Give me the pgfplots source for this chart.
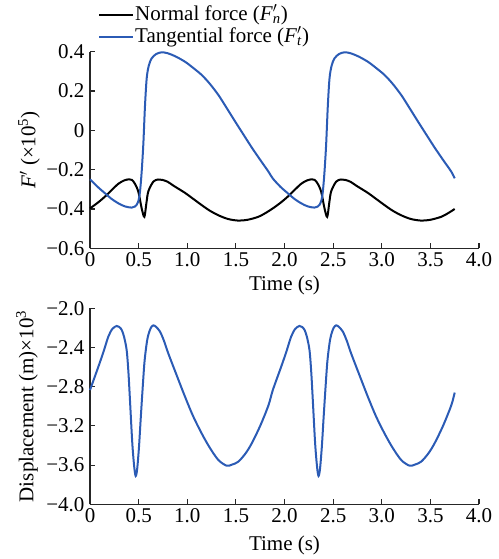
\documentclass[border=0pt]{standalone}
\usepackage{fontspec}
\setmainfont{Liberation Serif}
\usepackage{pgfplots}
\pgfplotsset{compat=1.18}
\definecolor{fblue}{RGB}{43,91,181}
\newcommand{\fs}{\fontsize{21}{23}\selectfont}
\begin{document}
\begin{tikzpicture}
\path[use as bounding box] (0pt,0pt) rectangle (498pt,-559pt);
\pgfplotsset{
  myax/.style={
    scale only axis, width=389pt,
    axis lines=left, axis line style={-, line width=1.2pt, black!85},
    tick align=inside, major tick length=5pt,
    tick style={line width=1.1pt, black!85},
    xmin=0, xmax=4, clip=false,
    xtick={0,0.5,1,1.5,2,2.5,3,3.5,4},
    xticklabels={0,0.5,1.0,1.5,2.0,2.5,3.0,3.5,4.0},
    ticklabel style={font=\fs},
    xlabel={Time (s)},
    every axis x label/.style={at={(axis description cs:0.5,0)}, anchor=north, yshift=-24pt, font=\fs},
    every axis y label/.style={at={(axis description cs:0,0.5)}, rotate=90, anchor=center, font=\fs},
    yticklabel style={xshift=-2pt},
    xticklabel style={yshift=-1pt},
  }
}
\begin{axis}[myax, at={(90pt,-248.3pt)}, anchor=south west, height=196.6pt,
  ymin=-0.6, ymax=0.4,
  ytick={-0.6,-0.4,-0.2,0,0.2,0.4},
  yticklabels={−0.6,−0.4,−0.2,0,0.2,0.4},
  ylabel={\textit{F}$'$ (×10\textsuperscript{5})},
  every axis y label/.append style={yshift=61pt},
  legend cell align=left,
  legend style={draw=none, fill=none, font=\fs, at={(axis description cs:0,1)}, anchor=south west,
    xshift=8pt, yshift=4pt, row sep=1pt, inner sep=0pt,
    nodes={inner sep=1pt, text height=15pt, text depth=4pt}},
  legend image code/.code={\draw[#1, line width=2pt] (0pt,0pt) -- (34pt,0pt);},
]
\addplot[black, line width=2pt, smooth, tension=0.5] coordinates {
(0,-0.397) (0.08,-0.368) (0.154,-0.337) (0.22,-0.305) (0.291,-0.272) (0.35,-0.255) (0.40,-0.249) (0.43,-0.252) (0.46,-0.270) (0.497,-0.312) (0.531,-0.396) (0.559,-0.440) (0.58,-0.37) (0.60,-0.31) (0.651,-0.261) (0.70,-0.250) (0.744,-0.252) (0.80,-0.262) (0.86,-0.282) (0.977,-0.318) (1.06,-0.348) (1.148,-0.380) (1.23,-0.408) (1.32,-0.432) (1.42,-0.451) (1.525,-0.459) (1.62,-0.455) (1.73,-0.440) (1.80,-0.422)
(1.88,-0.397) (1.96,-0.368) (2.034,-0.337) (2.10,-0.305) (2.171,-0.272) (2.23,-0.255) (2.28,-0.249) (2.31,-0.252) (2.34,-0.270) (2.377,-0.312) (2.411,-0.396) (2.439,-0.440) (2.46,-0.37) (2.48,-0.31) (2.531,-0.261) (2.58,-0.250) (2.624,-0.252) (2.68,-0.262) (2.74,-0.282) (2.857,-0.318) (2.94,-0.348) (3.028,-0.380) (3.11,-0.408) (3.20,-0.432) (3.30,-0.451) (3.405,-0.459) (3.50,-0.455) (3.61,-0.440) (3.68,-0.422) (3.75,-0.400)
};
\addlegendentry{Normal force (\textit{F}\rlap{$'$}\textsubscript{\textit{n}})}
\addplot[fblue, line width=2pt, smooth, tension=0.5] coordinates {
(0,-0.249) (0.08,-0.288) (0.154,-0.320) (0.22,-0.348) (0.291,-0.371) (0.36,-0.387) (0.428,-0.393) (0.46,-0.388) (0.48,-0.379) (0.50,-0.355) (0.514,-0.312) (0.53,-0.22) (0.548,-0.074) (0.565,0.12) (0.583,0.265) (0.605,0.33) (0.634,0.366) (0.68,0.388) (0.737,0.397) (0.80,0.392) (0.88,0.376) (0.977,0.349) (1.06,0.318) (1.148,0.282) (1.23,0.238) (1.32,0.180) (1.40,0.118) (1.491,0.046) (1.58,-0.023) (1.663,-0.087) (1.75,-0.150) (1.835,-0.210)
(1.88,-0.245) (1.96,-0.288) (2.034,-0.320) (2.10,-0.348) (2.171,-0.371) (2.24,-0.387) (2.308,-0.393) (2.34,-0.388) (2.36,-0.379) (2.38,-0.355) (2.394,-0.312) (2.41,-0.22) (2.428,-0.074) (2.445,0.12) (2.463,0.265) (2.485,0.33) (2.514,0.366) (2.56,0.388) (2.617,0.397) (2.68,0.392) (2.76,0.376) (2.857,0.349) (2.94,0.318) (3.028,0.282) (3.11,0.238) (3.20,0.180) (3.28,0.118) (3.371,0.046) (3.46,-0.023) (3.543,-0.087) (3.63,-0.150) (3.715,-0.210) (3.75,-0.244)
};
\addlegendentry{Tangential force (\textit{F}\rlap{$'$}\textsubscript{\textit{t}})}
\end{axis}
\begin{axis}[myax, at={(90pt,-504.3pt)}, anchor=south west, height=196pt,
  ymin=-4, ymax=-2,
  ytick={-4,-3.6,-3.2,-2.8,-2.4,-2},
  yticklabels={−4.0,−3.6,−3.2,−2.8,−2.4,−2.0},
  ylabel={Displacement (m)×10\textsuperscript{3}},
  every axis y label/.append style={yshift=63pt},
  every axis x label/.append style={yshift=-4pt},
]
\addplot[fblue, line width=2pt, smooth, tension=0.5] coordinates {
(0,-2.834) (0.086,-2.596) (0.14,-2.44) (0.188,-2.29) (0.23,-2.21) (0.274,-2.18) (0.30,-2.19) (0.326,-2.22) (0.35,-2.29) (0.377,-2.426) (0.395,-2.65) (0.411,-2.936) (0.435,-3.378) (0.455,-3.62) (0.47,-3.711) (0.485,-3.64) (0.504,-3.412) (0.52,-3.15) (0.538,-2.867) (0.56,-2.55) (0.583,-2.357) (0.60,-2.27) (0.625,-2.20) (0.651,-2.174) (0.68,-2.19) (0.72,-2.238) (0.76,-2.33) (0.805,-2.46) (0.89,-2.68) (0.977,-2.902) (1.06,-3.10) (1.148,-3.276) (1.23,-3.42) (1.32,-3.548) (1.405,-3.606) (1.46,-3.595) (1.525,-3.565) (1.60,-3.48) (1.663,-3.378) (1.75,-3.20) (1.835,-2.99)
(1.88,-2.834) (1.966,-2.596) (2.02,-2.44) (2.068,-2.29) (2.11,-2.21) (2.154,-2.18) (2.18,-2.19) (2.206,-2.22) (2.23,-2.29) (2.257,-2.426) (2.275,-2.65) (2.291,-2.936) (2.315,-3.378) (2.335,-3.62) (2.35,-3.711) (2.365,-3.64) (2.384,-3.412) (2.40,-3.15) (2.418,-2.867) (2.44,-2.55) (2.463,-2.357) (2.48,-2.27) (2.505,-2.20) (2.531,-2.174) (2.56,-2.19) (2.60,-2.238) (2.64,-2.33) (2.685,-2.46) (2.77,-2.68) (2.857,-2.902) (2.94,-3.10) (3.028,-3.276) (3.11,-3.42) (3.20,-3.548) (3.285,-3.606) (3.34,-3.595) (3.405,-3.565) (3.48,-3.48) (3.543,-3.378) (3.63,-3.20) (3.715,-2.99) (3.75,-2.86)
};
\end{axis}
\end{tikzpicture}
\end{document}
